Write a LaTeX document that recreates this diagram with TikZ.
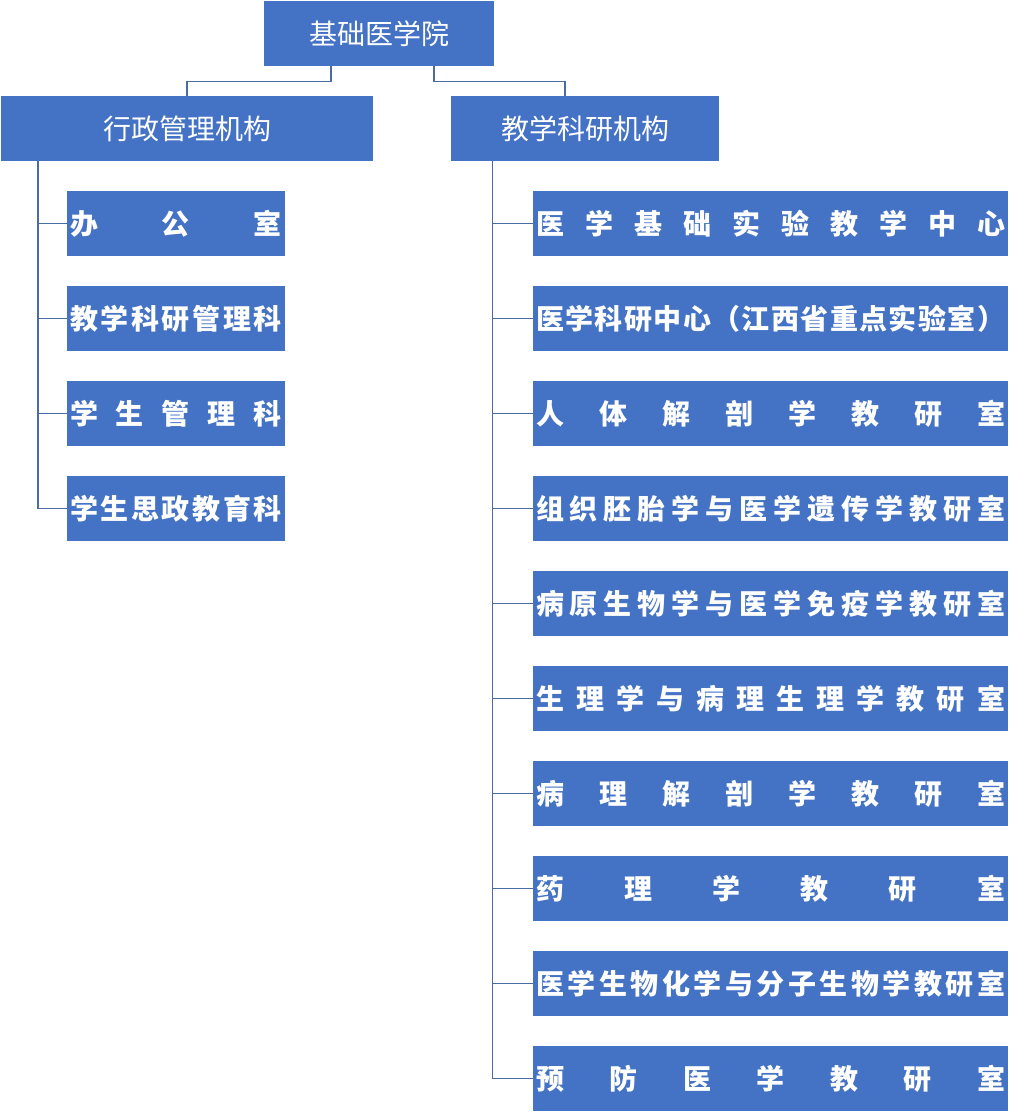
\documentclass[tikz,border=0pt]{standalone}
\usepackage{fontspec}
\newfontfamily\cjk{Noto Sans CJK SC}
\usetikzlibrary{positioning}

\definecolor{boxblue}{HTML}{4472C4}
\definecolor{lineblue}{HTML}{4A6CA3}

% spread the characters of #2 over a box #1 wide
\def\spread#1#2{\hbox to #1{\expandafter\spreadfirst#2\relax}}
\def\spreadfirst#1{\ifx\relax#1\else #1\expandafter\spreadgap\fi}
\def\spreadgap#1{\ifx\relax#1\else\hfill #1\expandafter\spreadgap\fi}

\tikzset{
  unit/.style={fill=boxblue,text=white,inner sep=0pt,minimum height=65pt,
    font=\cjk\fontsize{28}{28}\selectfont},
  dept/.style={unit,minimum width=#1,font=\cjk\bfseries\fontsize{28}{28}\selectfont},
  link/.style={draw=lineblue,line width=1.1pt}
}

\begin{document}
\begin{tikzpicture}[x=1pt,y=-1pt]
\useasboundingbox (0,0) rectangle (1024,1112);

\node[unit,minimum width=230pt] (root)  at (379,33.5)  {基础医学院};
\node[unit,minimum width=372pt] (admin) at (187,128.5) {行政管理机构};
\node[unit,minimum width=268pt] (teach) at (585,128.5) {教学科研机构};

\draw[link] ([xshift=-48pt]root.south) -- ++(0,15) -| (admin.north);
\draw[link] ([xshift=55pt]root.south)  -- ++(0,15) -| ([xshift=-20pt]teach.north);

% administrative offices
\foreach \name [count=\i] in {办公室,教学科研管理科,学生管理科,学生思政教育科}
  \node[dept=218pt] (a\i) at (176,128.5+95*\i) {\spread{212pt}{\name}};

% teaching and research units
\foreach \name [count=\i] in {医学基础实验教学中心,医学科研中心（江西省重点实验室）,
    人体解剖学教研室,组织胚胎学与医学遗传学教研室,病原生物学与医学免疫学教研室,
    生理学与病理生理学教研室,病理解剖学教研室,药理学教研室,
    医学生物化学与分子生物学教研室,预防医学教研室}
  \node[dept=475pt] (b\i) at (770.5,128.5+95*\i) {\spread{469pt}{\name}};

\coordinate (atrunk) at ([xshift=-149pt]admin.south);
\coordinate (btrunk) at ([xshift=-92.5pt]teach.south);

\draw[link] (atrunk) |- (a4.west);
\foreach \i in {1,2,3}
  \draw[link] (a\i.west) -- (a\i.west -| atrunk);

\draw[link] (btrunk) |- (b10.west);
\foreach \i in {1,...,9}
  \draw[link] (b\i.west) -- (b\i.west -| btrunk);

\end{tikzpicture}
\end{document}
